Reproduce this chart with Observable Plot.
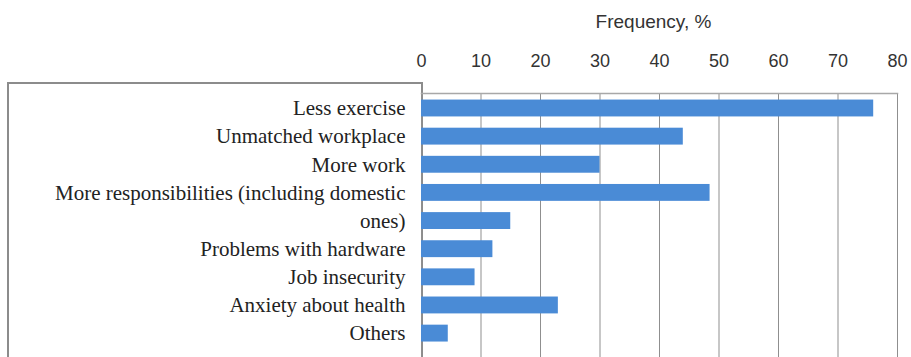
<!DOCTYPE html>
<html>
<head>
<meta charset="utf-8">
<script src="https://cdn.jsdelivr.net/npm/d3@7"></script>
<script src="https://cdn.jsdelivr.net/npm/@observablehq/plot@0.6"></script>
<style>
  html, body { margin: 0; padding: 0; background: #fff; }
  #wrap { position: relative; width: 911px; height: 357px; overflow: hidden; }
  #box { position: absolute; left: 7px; top: 82px; width: 412px; height: 300px; border: 2px solid #8c8c8c; box-sizing: content-box; }
  #chart { position: absolute; left: 0; top: 0; }
</style>
</head>
<body>
<div id="wrap">
  <div id="box"></div>
  <div id="chart"></div>
</div>
<script>
const categories = [
  "Less exercise",
  "Unmatched workplace",
  "More work",
  "More responsibilities (including domestic",
  "ones)",
  "Problems with hardware",
  "Job insecurity",
  "Anxiety about health",
  "Others"
];
const values = [76, 44, 30, 48.5, 15, 12, 9, 23, 4.5];
const xTicks = [0, 10, 20, 30, 40, 50, 60, 70, 80];
const axisTitle = "Frequency, %";

const data = categories.map((c, i) => ({category: c, value: values[i]}));

const chart = Plot.plot({
  width: 911,
  height: 357,
  marginLeft: 421,
  marginRight: 14,
  marginTop: 93,
  marginBottom: 0,
  style: {background: "transparent", overflow: "visible"},
  x: {domain: [0, 80], ticks: xTicks},
  y: {domain: categories, range: [88.3, 352.8], padding: 0.4, round: false, axis: null},
  marks: [
    Plot.gridX(xTicks, {stroke: "#8f8f8f", strokeOpacity: 1, strokeWidth: 1}),
    Plot.frame({anchor: "top", stroke: "#a8a8a8", strokeWidth: 1.5}),
    Plot.barX(data, {x: "value", y: "category", fill: "#4a8bd6"}),
    Plot.axisX(xTicks, {anchor: "top", tickSize: 0, tickPadding: 27, label: null,
      fontSize: 18, fontFamily: "'Liberation Sans', sans-serif", fill: "#333"}),
    Plot.text(data, {x: 0, y: "category", text: "category", textAnchor: "end", dx: -16,
      fontSize: 21, fontFamily: "'Liberation Serif', 'Times New Roman', serif", fill: "#222"}),
    Plot.text([axisTitle], {frameAnchor: "top", dy: -79, dx: -6,
      fontSize: 19, fontFamily: "'Liberation Sans', sans-serif", fill: "#333"})
  ]
});
document.getElementById("chart").appendChild(chart);
</script>
</body>
</html>
